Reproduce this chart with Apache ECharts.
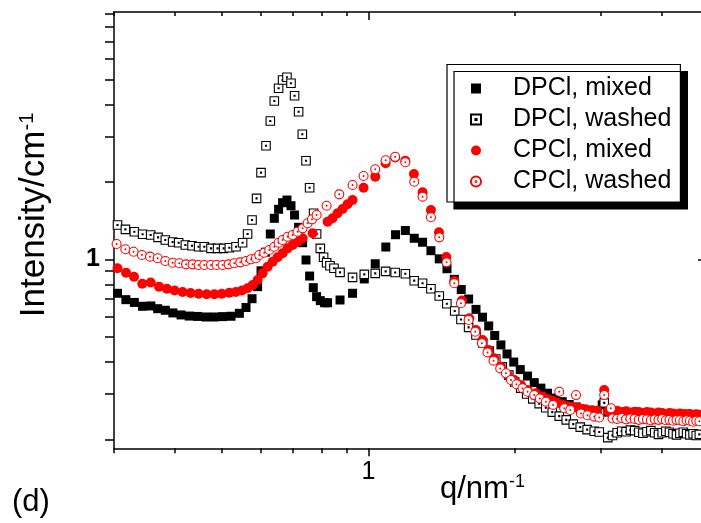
<!DOCTYPE html>
<html><head><meta charset="utf-8">
<script src="https://cdn.jsdelivr.net/npm/echarts@6/dist/echarts.min.js"></script>
<style>html,body{margin:0;padding:0;background:#fff}#c{width:701px;height:523px}</style>
</head><body><div id="c"></div>
<script>
// ---------- data (q in nm^-1, intensity in cm^-1) ----------
const seriesNames = ['DPCl, mixed', 'DPCl, washed', 'CPCl, mixed', 'CPCl, washed'];
const xTickMajor = [1];
const xTickMinor = [0.3, 0.4, 0.5, 0.6, 0.7, 0.8, 0.9, 2, 3, 4];
const yTicks = [0.2, 0.3, 0.4, 0.5, 0.6, 0.7, 0.8, 0.9, 1, 2, 3, 4, 5, 6, 7, 8, 9];
const xLabelValues = [1];
const yLabelValues = [1];

const dpclMixed = [
 [0.305,0.738],[0.3173,0.697],[0.3303,0.680],[0.3434,0.657],[0.3571,0.659],[0.3688,0.643],[0.3824,0.634],[0.3963,0.619],
 [0.4119,0.608],[0.4283,0.602],[0.4455,0.600],[0.4635,0.597],[0.4822,0.597],[0.5014,0.599],[0.5218,0.601],[0.5428,0.617],
 [0.5601,0.650],[0.5763,0.703],[0.5917,0.783],[0.6013,0.902],[0.6144,1.066],[0.6283,1.254],[0.6403,1.443],[0.6534,1.564],
 [0.6659,1.659],[0.6798,1.699],[0.6929,1.615],[0.7047,1.486],[0.7183,1.331],[0.7320,1.160],[0.7439,0.994],[0.7567,0.861],
 [0.7699,0.776],[0.7821,0.716],[0.7959,0.691],[0.8122,0.678],[0.8237,0.678],[0.8737,0.695],[0.9271,0.738],[0.9799,0.839],
 [1.032,0.961],[1.085,1.116],[1.136,1.246],[1.190,1.294],[1.241,1.207],[1.291,1.165],[1.343,1.080],[1.397,1.004],
 [1.449,0.919],[1.500,0.836],[1.550,0.763],[1.605,0.701],[1.662,0.639],[1.714,0.596],[1.765,0.551],[1.816,0.506],
 [1.870,0.465],[1.925,0.429],[1.987,0.399],[2.049,0.373],[2.121,0.352],[2.189,0.332],[2.259,0.316],[2.331,0.302],
 [2.418,0.289],[2.499,0.280],[2.583,0.273],[2.670,0.267],[2.760,0.262],[2.853,0.259],[2.935,0.256],[3.019,0.272]
];
const dpclWashed = [
 [0.305,1.359],[0.3166,1.307],[0.3303,1.280],[0.3434,1.251],[0.3568,1.243],[0.3695,1.217],[0.3824,1.188],[0.3959,1.167],
 [0.4073,1.160],[0.4204,1.137],[0.4339,1.129],[0.4476,1.119],[0.4598,1.119],[0.4746,1.103],[0.4896,1.103],[0.5038,1.103],
 [0.5176,1.109],[0.5342,1.119],[0.5511,1.160],[0.5643,1.254],[0.5763,1.421],[0.5888,1.725],[0.6013,2.170],[0.6156,2.762],
 [0.6283,3.444],[0.6403,4.120],[0.6534,4.615],[0.6659,4.970],[0.6798,5.092],[0.6929,4.826],[0.7047,4.319],[0.7183,3.743],
 [0.7310,3.058],[0.7439,2.415],[0.7567,1.897],[0.7711,1.509],[0.7821,1.254],[0.7959,1.103],[0.8084,1.018],[0.8200,0.970],
 [0.8331,0.944],[0.8491,0.923],[0.8737,0.890],[0.9271,0.851],[0.9799,0.874],[1.032,0.882],[1.084,0.898],[1.134,0.889],
 [1.190,0.879],[1.241,0.826],[1.291,0.807],[1.343,0.768],[1.397,0.720],[1.448,0.672],[1.503,0.630],[1.548,0.584],
 [1.605,0.544],[1.662,0.508],[1.716,0.473],[1.769,0.440],[1.825,0.410],[1.881,0.382],[1.941,0.355],[1.996,0.334],
 [2.053,0.316],[2.112,0.300],[2.174,0.287],[2.241,0.275],[2.312,0.265],[2.384,0.255],[2.464,0.246],[2.547,0.238],
 [2.633,0.229],[2.721,0.223],[2.812,0.218],[2.907,0.215],[2.977,0.2135],[3.048,0.277]
];
const cpclMixed = [
 [0.305,0.923],[0.3176,0.887],[0.3298,0.856],[0.3429,0.804],[0.3568,0.813],[0.3712,0.783],[0.3852,0.768],[0.3996,0.756],
 [0.4150,0.746],[0.4310,0.740],[0.4476,0.735],[0.4649,0.732],[0.4822,0.732],[0.4995,0.735],[0.5176,0.742],[0.5337,0.746],
 [0.5495,0.756],[0.5643,0.772],[0.5779,0.795],[0.5917,0.831],[0.6058,0.882],[0.6203,0.936],[0.6351,0.979],[0.6503,1.018],
 [0.6659,1.055],[0.6818,1.103],[0.6981,1.137],[0.7148,1.170],[0.7320,1.207],[0.7674,1.262],[0.8237,1.400],[0.8433,1.443],
 [0.8635,1.509],[0.8843,1.568],[0.9054,1.635],[0.9271,1.699],[0.9766,1.897],[1.032,2.094],[1.084,2.359],[1.134,2.485],
 [1.190,2.415],[1.239,2.145],[1.291,1.822],[1.343,1.554],[1.395,1.274],[1.444,1.021],[1.500,0.823],[1.555,0.692],
 [1.610,0.590],[1.662,0.531],[1.714,0.486],[1.764,0.444],[1.812,0.413],[1.870,0.383],[1.930,0.355],[1.992,0.340],
 [2.055,0.325],[2.121,0.311],[2.207,0.302],[2.277,0.293],[2.328,0.287],[2.384,0.282],[2.440,0.277],[2.499,0.273],
 [2.559,0.269],[2.620,0.267],[2.683,0.265],[2.747,0.262],[2.812,0.260],[2.879,0.259],[2.949,0.258],[3.048,0.311]
];
const cpclWashed = [
 [0.3037,1.147],[0.3166,1.094],[0.3292,1.070],[0.3424,1.039],[0.3557,1.024],[0.3688,1.009],[0.3824,0.985],[0.3959,0.970],
 [0.4086,0.965],[0.4218,0.956],[0.4351,0.956],[0.4476,0.950],[0.4598,0.950],[0.4746,0.950],[0.4874,0.950],[0.5014,0.950],
 [0.5158,0.956],[0.5299,0.965],[0.5451,0.973],[0.5601,0.985],[0.5735,1.000],[0.5872,1.009],[0.5964,1.039],[0.6106,1.061],
 [0.6253,1.087],[0.6403,1.119],[0.6534,1.160],[0.6659,1.188],[0.6818,1.224],[0.6981,1.243],[0.7148,1.280],[0.7320,1.319],
 [0.7494,1.380],[0.7652,1.430],[0.7821,1.486],[0.8200,1.615],[0.8706,1.788],[0.9271,1.943],[0.9766,2.106],[1.032,2.238],
 [1.084,2.424],[1.134,2.503],[1.190,2.381],[1.241,2.002],[1.291,1.751],[1.343,1.456],[1.397,1.217],[1.446,0.973],
 [1.500,0.807],[1.548,0.675],[1.605,0.581],[1.656,0.523],[1.709,0.472],[1.755,0.435],[1.806,0.404],[1.864,0.377],
 [1.915,0.361],[1.961,0.340],[2.013,0.327],[2.071,0.316],[2.121,0.306],[2.189,0.297],[2.248,0.288],[2.313,0.280],
 [2.393,0.272],[2.464,0.306],[2.523,0.264],[2.596,0.260],[2.667,0.297],[2.730,0.252],[2.816,0.248],[2.907,0.245],
 [2.977,0.243],[3.048,0.297],[3.146,0.264]
];
// high-q tail (shared q grid)
const qTail = [3.10,3.17,3.24,3.31,3.38,3.45,3.52,3.59,3.66,3.73,3.80,3.87,3.94,4.01,4.08,4.15,4.22,4.29,4.36,4.43,4.50,4.57,4.64,4.71,4.78];
const dpclMixedTail  = [0.255,0.252,0.254,0.251,0.253,0.250,0.252,0.249,0.251,0.250,0.248,0.250,0.249,0.251,0.248,0.247,0.249,0.248,0.246,0.248,0.247,0.245,0.247,0.246,0.245];
const dpclWashedTail = [0.203,0.207,0.212,0.215,0.214,0.217,0.216,0.213,0.211,0.214,0.216,0.212,0.209,0.212,0.215,0.213,0.210,0.208,0.211,0.213,0.210,0.208,0.210,0.207,0.209];
const cpclMixedTail  = [0.257,0.256,0.258,0.255,0.257,0.254,0.256,0.255,0.253,0.255,0.254,0.252,0.254,0.253,0.251,0.253,0.252,0.250,0.252,0.251,0.250,0.251,0.249,0.250,0.249];
const cpclWashedTail = [null,0.241,0.240,0.242,0.239,0.241,0.240,0.238,0.240,0.239,0.237,0.239,0.238,0.240,0.237,0.238,0.236,0.238,0.237,0.235,0.237,0.236,0.234,0.236,0.235];

// ---------- build ----------
function withTail(main, tail) {
  const out = main.slice();
  qTail.forEach((q, i) => { if (tail[i] != null) out.push([q, tail[i]]); });
  return out;
}
const FONT = 'Liberation Sans, Arial, Helvetica, sans-serif';
const SQ = 'path://M0,0H10V10H0Z';
const SQ_DOT = 'path://M0,0H10V10H0Z M4.4,4.4H5.6V5.6H4.4Z';
const CIRC = 'path://M0,5A5,5,0,1,1,10,5A5,5,0,1,1,0,5Z';
const CIRC_DOT = 'path://M0,5A5,5,0,1,1,10,5A5,5,0,1,1,0,5Z M4.5,5A0.5,0.5,0,1,1,5.5,5A0.5,0.5,0,1,1,4.5,5Z';

const X_MIN = 0.3, X_MAX = 4.84, Y_MIN = 0.1845, Y_MAX = 9.13;
const axisLineStyle = { color: '#000', width: 1.5 };
function xAx(pos, ticks, len, inside, showLine, label) {
  return {
    type: 'log', logBase: 10, min: X_MIN, max: X_MAX, position: pos, gridIndex: 0,
    axisLine: { show: showLine, onZero: false, lineStyle: axisLineStyle },
    axisTick: { show: true, customValues: ticks, length: len, inside: inside, lineStyle: { color: '#000', width: 1.5 } },
    axisLabel: label ? label : { show: false },
    splitLine: { show: false }, minorTick: { show: false }
  };
}
function yAx(pos, ticks, len, inside, label) {
  return {
    type: 'log', logBase: 10, min: Y_MIN, max: Y_MAX, position: pos, gridIndex: 0,
    axisLine: { show: true, onZero: false, lineStyle: axisLineStyle },
    axisTick: { show: true, customValues: ticks, length: len, inside: inside, lineStyle: { color: '#000', width: 1.5 } },
    axisLabel: label ? label : { show: false },
    splitLine: { show: false }, minorTick: { show: false }
  };
}

const chart = echarts.init(document.getElementById('c'), null, { renderer: 'canvas' });
const option = {
  animation: false,
  backgroundColor: '#fff',
  grid: { left: 114, top: 12, width: 588, height: 436.3, containLabel: false, outerBoundsMode: 'none' },
  xAxis: [
    xAx('bottom', xTickMajor, 8, false, true, {
      show: true, customValues: xLabelValues, margin: 11, color: '#000', fontSize: 25, fontFamily: FONT,
      formatter: v => String(Math.round(v))
    }),
    xAx('bottom', xTickMinor, 5, false, false),
    xAx('top', xTickMajor, 8, true, true),
    xAx('top', xTickMinor, 4, true, false)
  ],
  yAxis: [
    yAx('left', yTicks, 9, false, {
      show: true, customValues: yLabelValues, margin: 14, color: '#000', fontSize: 25, fontWeight: 'bold', fontFamily: FONT,
      formatter: v => String(Math.round(v))
    }),
    yAx('right', [1], 4, true)
  ],
  legend: {
    orient: 'vertical', left: 447, top: 64.5,
    padding: [11.5, 9, 8, 23], itemGap: 6, itemWidth: 10, itemHeight: 10,
    backgroundColor: '#fff', borderColor: '#000', borderWidth: 1.2, borderRadius: 0,
    shadowColor: '#000', shadowOffsetX: 7, shadowOffsetY: 7, shadowBlur: 0,
    selectedMode: false,
    textStyle: { fontSize: 25, lineHeight: 25, fontFamily: FONT, color: '#000', padding: [0, 0, 0, 27] },
    data: seriesNames
  },
  graphic: [
    { type: 'text', x: 34.6, y: 215, rotation: Math.PI / 2, silent: true,
      style: { text: '{a|Intensity/cm}{b|-1}', align: 'center', verticalAlign: 'middle', fill: '#000',
        rich: { a: { fontSize: 35, fontFamily: FONT, fill: '#000' },
                b: { fontSize: 20, fontFamily: FONT, fill: '#000', verticalAlign: 'top' } } } },
    { type: 'text', x: 440, y: 489, silent: true,
      style: { text: '{a|q/nm}{b|-1}', align: 'left', verticalAlign: 'middle', fill: '#000',
        rich: { a: { fontSize: 31, fontFamily: FONT, fill: '#000' },
                b: { fontSize: 18, fontFamily: FONT, fill: '#000', verticalAlign: 'top' } } } },
    { type: 'text', x: 12, y: 502, silent: true,
      style: { text: '(d)', align: 'left', verticalAlign: 'middle', fill: '#000', fontSize: 31, fontFamily: FONT } }
  ],
  series: [
    { name: seriesNames[0], type: 'scatter', xAxisIndex: 0, yAxisIndex: 0, symbol: SQ, symbolSize: 9,
      itemStyle: { color: '#000', opacity: 1 }, data: withTail(dpclMixed, dpclMixedTail) },
    { name: seriesNames[1], type: 'scatter', xAxisIndex: 0, yAxisIndex: 0, symbol: SQ_DOT, symbolSize: 8.5,
      itemStyle: { color: '#fff', borderColor: '#000', borderWidth: 1.1, opacity: 1 }, data: withTail(dpclWashed, dpclWashedTail) },
    { name: seriesNames[2], type: 'scatter', xAxisIndex: 0, yAxisIndex: 0, symbol: CIRC, symbolSize: 10,
      itemStyle: { color: '#ff0000', opacity: 1 }, data: withTail(cpclMixed, cpclMixedTail) },
    { name: seriesNames[3], type: 'scatter', xAxisIndex: 0, yAxisIndex: 0, symbol: CIRC_DOT, symbolSize: 9,
      itemStyle: { color: '#fff', borderColor: '#ff0000', borderWidth: 1.1, opacity: 1 }, data: withTail(cpclWashed, cpclWashedTail) }
  ]
};
chart.setOption(option);
</script>
</body></html>
